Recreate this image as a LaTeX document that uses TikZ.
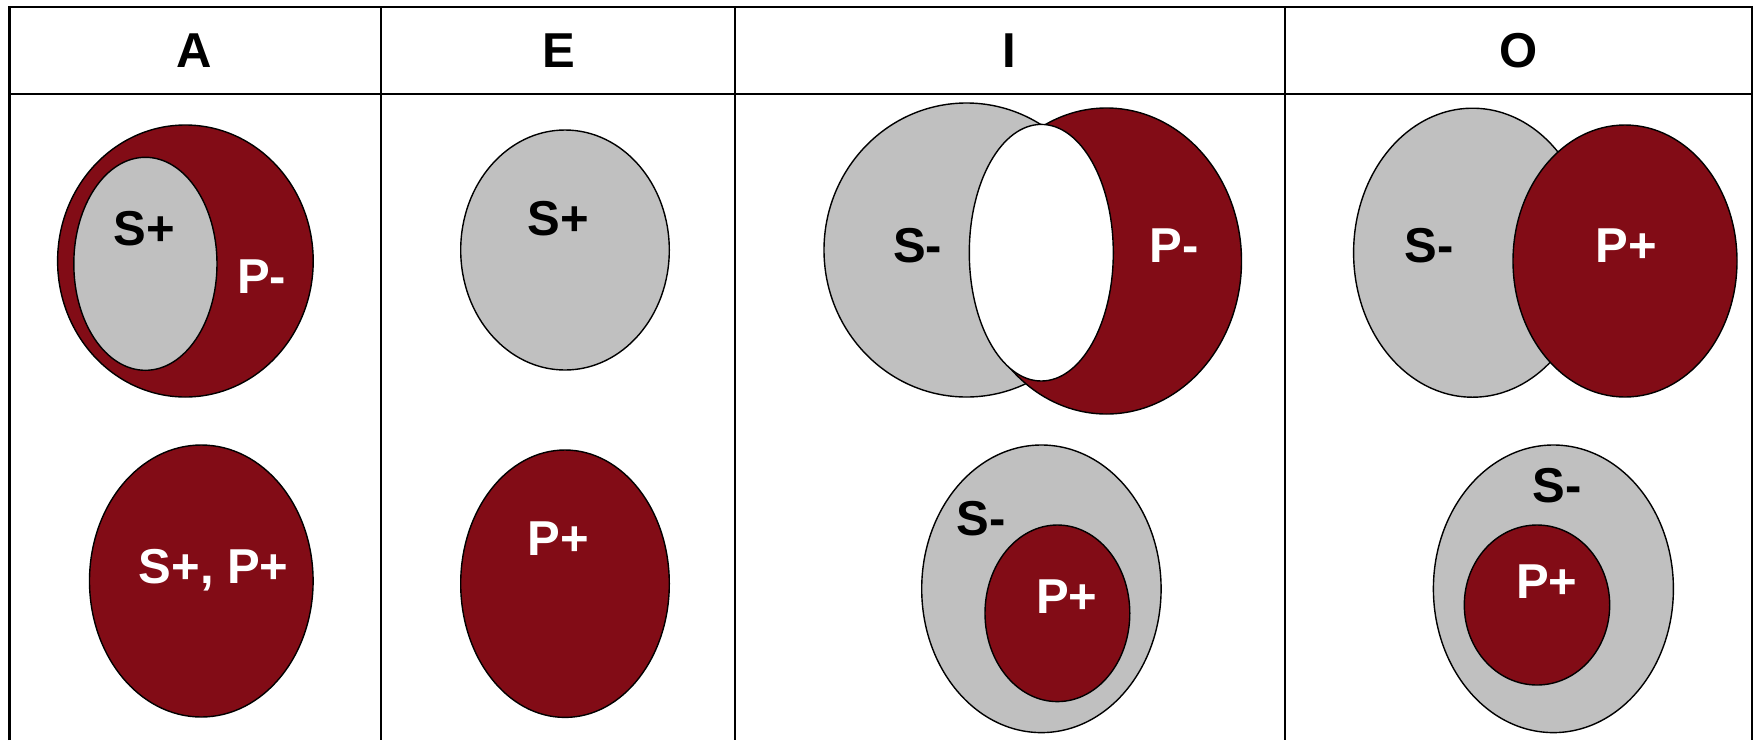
\documentclass[tikz,border=0pt]{standalone}
\usepackage{fontspec}
\setmainfont{Liberation Sans}
\definecolor{dred}{RGB}{130,12,22}
\definecolor{lgrey}{RGB}{192,192,192}
\begin{document}
\begin{tikzpicture}[x=1pt,y=-1pt,
  grid/.style={line width=2.2pt,black},
  outl/.style={line width=1.4pt,black},
  redset/.style={outl,fill=dred},
  greyset/.style={outl,fill=lgrey},
  whiteset/.style={outl,fill=white},
  lbl/.style={font=\fontsize{49}{49}\selectfont\bfseries,anchor=base,inner sep=0pt},
  dark/.style={lbl,text=black},
  light/.style={lbl,text=white}]
\useasboundingbox (0,0) rectangle (1754,740);
% table
\draw[grid] (9.5,740) -- (9.5,7) -- (1752,7) -- (1752,740);
\draw[grid] (9.5,94) -- (1752,94);
\draw[grid] (381,7) -- (381,740);
\draw[grid] (735,7) -- (735,740);
\draw[grid] (1285,7) -- (1285,740);
% headers
\node[dark] (hA) at (194.6,67) {A};
\node[dark] (hE) at (559,67) {E};
\node[dark] (hI) at (1009.5,67) {I};
\node[dark] (hO) at (1518.5,67) {O};
% column A
\draw[redset] (185.4,261) ellipse [x radius=127.8pt, y radius=136pt];
\draw[greyset] (145.4,263.8) ellipse [x radius=71.6pt, y radius=106.5pt];
\node[dark] (aS) at (144,245) {S+};
\node[light] (aP) at (261.5,293) {P-};
\draw[redset] (201.3,581) ellipse [x radius=111.8pt, y radius=136pt];
\node[light] (aSP) at (213.7,583.3) {S+, P+};
% column E
\draw[greyset] (565,250) ellipse [x radius=104.3pt, y radius=120pt];
\node[dark] (eS) at (558.4,235) {S+};
\draw[redset] (565,583.7) ellipse [x radius=104.3pt, y radius=133.7pt];
\node[light] (eP) at (558.4,555) {P+};
% column I
\draw[greyset] (966.5,250) ellipse [x radius=142.5pt, y radius=147pt];
\draw[redset] (1106.5,261) ellipse [x radius=135pt, y radius=153pt];
\draw[whiteset] (1041.3,252.7) ellipse [x radius=72pt, y radius=128.3pt];
\node[dark] (iS) at (917.5,262) {S-};
\node[light] (iP) at (1174,262) {P-};
\draw[greyset] (1041.4,588.8) ellipse [x radius=119.7pt, y radius=143.8pt];
\draw[redset] (1057.4,613.3) ellipse [x radius=72.4pt, y radius=88.3pt];
\node[dark] (iS2) at (981,535) {S-};
\node[light] (iP2) at (1066.7,613) {P+};
% column O
\draw[greyset] (1472.6,252.7) ellipse [x radius=119pt, y radius=144.5pt];
\draw[redset] (1625,261) ellipse [x radius=112pt, y radius=136pt];
\node[dark] (oS) at (1429,262) {S-};
\node[light] (oP) at (1626.5,262) {P+};
\draw[greyset] (1553.4,588.8) ellipse [x radius=120pt, y radius=143.8pt];
\draw[redset] (1537,605) ellipse [x radius=72.7pt, y radius=80pt];
\node[dark] (oS2) at (1557.3,502) {S-};
\node[light] (oP2) at (1546.7,598) {P+};
\end{tikzpicture}
\end{document}
